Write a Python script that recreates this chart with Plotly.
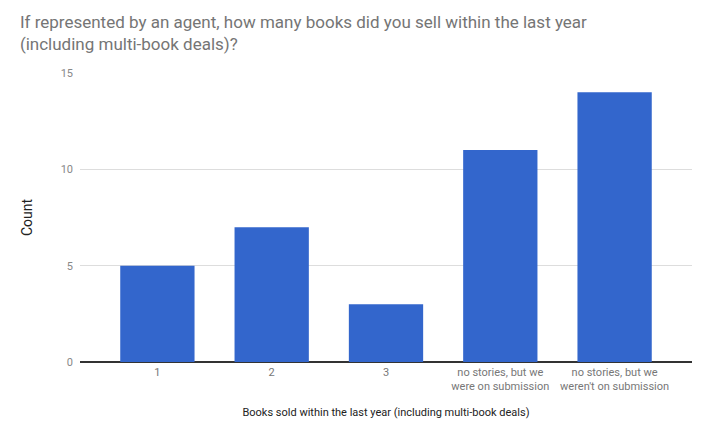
import plotly.graph_objects as go

categories = ["1", "2", "3", "no stories, but we<br>were on submission", "no stories, but we<br>weren't on submission"]
counts = [5, 7, 3, 11, 14]
y_ticks = [0, 5, 10, 15]

title_text = "If represented by an agent, how many books did you sell within the last year<br>(including multi-book deals)?"
x_title = "Books sold within the last year (including multi-book deals)"
y_title = "Count"

fig = go.Figure(go.Bar(
    x=list(range(len(categories))),
    y=counts,
    marker=dict(color="#3366cc", line=dict(width=0)),
    hoverinfo="skip",
))

fig.update_layout(
    width=710, height=435,
    margin=dict(l=80, r=18, t=73, b=73),
    paper_bgcolor="white", plot_bgcolor="white",
    font=dict(family="Roboto", color="#444444"),
    bargap=0.35,
    showlegend=False,
    title=dict(text=title_text, x=0.028, xanchor="left", y=0.935, yanchor="top",
               font=dict(family="Roboto", size=17, color="#757575")),
    xaxis=dict(
        tickmode="array", tickvals=list(range(len(categories))), ticktext=categories,
        range=[-0.677, 4.677], showgrid=False, zeroline=False, showline=False,
        ticks="", ticklabelstandoff=2, tickfont=dict(size=11, color="#777777"),
        title=dict(text=x_title, font=dict(size=11, color="#222222"), standoff=16),
    ),
    yaxis=dict(
        range=[0, 15], tickmode="array", tickvals=y_ticks,
        showgrid=True, gridcolor="#dddddd", gridwidth=1,
        zeroline=True, zerolinecolor="#333333", zerolinewidth=1.5,
        showline=False, ticks="", ticklabelstandoff=6,
        tickfont=dict(size=11, color="#888888"),
        title=dict(text=y_title, font=dict(size=14, color="#222222"), standoff=24),
    ),
)

fig.write_html("out.html", config={"displayModeBar": False},
               post_script="document.body.style.margin='0';")
